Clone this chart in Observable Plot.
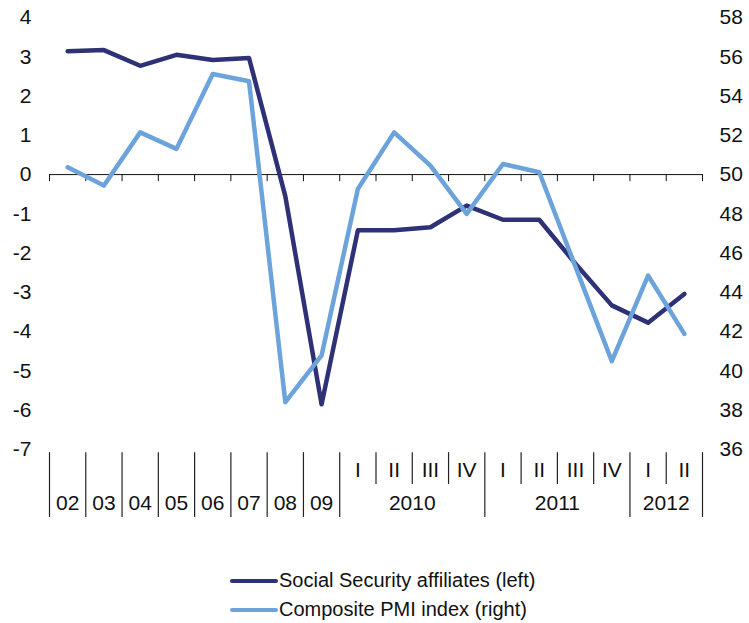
<!DOCTYPE html>
<html><head><meta charset="utf-8">
<script src="https://cdn.jsdelivr.net/npm/d3@7"></script>
<script src="https://cdn.jsdelivr.net/npm/@observablehq/plot@0.6"></script>
<style>
body{margin:0;background:#fff;font-family:"Liberation Sans",Arial,sans-serif;}
#wrap{position:relative;width:749px;height:623px;overflow:hidden;}
#legend{position:absolute;left:230px;top:566px;font-size:20px;color:#111;}
.item{display:flex;align-items:center;height:29px;white-space:nowrap;}
.sw{width:48px;height:4px;margin-right:1px;border-radius:2px;}
</style></head><body><div id="wrap"><div id="chart"></div><div id="legend"></div></div>
<script>
const categories = ["02","03","04","05","06","07","08","09","I","II","III","IV","I","II","III","IV","I","II"];
const yearLabels = ["2010","2011","2012"];
const yearStart = [8,12,16];
const yearEnd = [12,16,18];
const affiliates = [3.14,3.17,2.77,3.05,2.92,2.97,-0.55,-5.85,-1.42,-1.42,-1.34,-0.79,-1.15,-1.15,-2.27,-3.33,-3.77,-3.04];
const pmi = [50.37,49.44,52.15,51.31,55.12,54.75,38.41,40.79,49.27,52.15,50.46,48.0,50.54,50.12,45.3,40.5,44.86,41.89];
const leftTicks = d3.range(-7,5);
const rightTicks = d3.range(36,59,2);
const seriesNames = ["Social Security affiliates (left)","Composite PMI index (right)"];
const colors = ["#2e3175","#6ba3da"];

const toLeft = v => (v - 50) / 2;
const idx = d3.range(categories.length);
const boundaries = d3.range(0, categories.length + 1);
const isFull = b => b <= 8 || yearStart.includes(b) || yearEnd.includes(b);

const chart = Plot.plot({
  width: 749,
  height: 530,
  marginLeft: 49,
  marginRight: 47,
  marginTop: 17,
  marginBottom: 81,
  style: {fontFamily: "'Liberation Sans', Arial, sans-serif", background: "#fff", color: "#111"},
  x: {type: "linear", domain: [0, categories.length], axis: null},
  y: {domain: [-7, 4], axis: null},
  marks: [
    Plot.axisY(leftTicks, {anchor: "left", tickSize: 0, tickPadding: 18, fontSize: 21, label: null, tickFormat: d => String(d)}),
    Plot.text(rightTicks, {y: d => toLeft(d), text: d => String(d), frameAnchor: "right", textAnchor: "start", dx: 17, fontSize: 21}),
    Plot.ruleY([0], {stroke: "#111", strokeWidth: 1}),
    Plot.ruleX(boundaries, {x: d => d, y1: 0, y2: -0.18, stroke: "#111", strokeWidth: 1}),
    Plot.ruleX(boundaries, {x: d => d, y1: -7.08, y2: d => isFull(d) ? -8.73 : -7.89, stroke: "#222", strokeWidth: 1.2}),
    Plot.text(idx.slice(0, 8), {x: i => i + 0.5, y: -8.38, text: i => categories[i], fontSize: 21}),
    Plot.text(idx.slice(8), {x: i => i + 0.5, y: -7.54, text: i => categories[i], fontSize: 21}),
    Plot.text(yearLabels, {x: (d, i) => (yearStart[i] + yearEnd[i]) / 2, y: -8.38, text: d => d, fontSize: 21}),
    Plot.line(idx, {x: i => i + 0.5, y: i => affiliates[i], stroke: colors[0], strokeWidth: 4.5, strokeLinejoin: "round", strokeLinecap: "round"}),
    Plot.line(idx, {x: i => i + 0.5, y: i => toLeft(pmi[i]), stroke: colors[1], strokeWidth: 4.5, strokeLinejoin: "round", strokeLinecap: "round"})
  ]
});
document.getElementById("chart").appendChild(chart);

const legend = document.getElementById("legend");
seriesNames.forEach((n, i) => {
  const it = document.createElement("div");
  it.className = "item";
  const sw = document.createElement("div");
  sw.className = "sw";
  sw.style.background = colors[i];
  const t = document.createElement("span");
  t.textContent = n;
  it.appendChild(sw); it.appendChild(t);
  legend.appendChild(it);
});
</script>
</body></html>
